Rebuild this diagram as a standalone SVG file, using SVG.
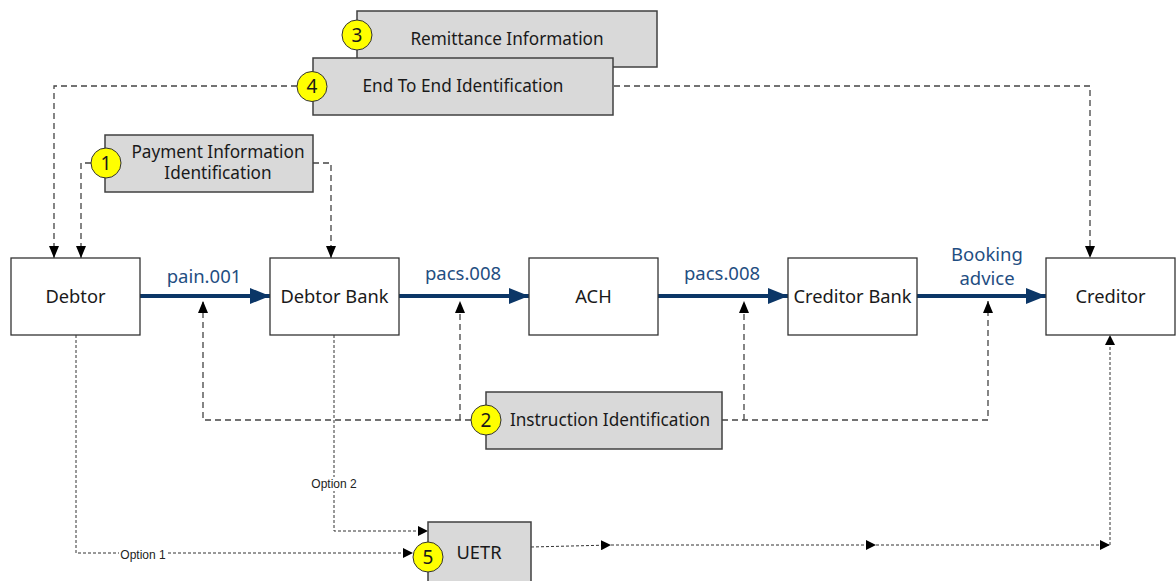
<svg xmlns="http://www.w3.org/2000/svg" width="1176" height="581" viewBox="0 0 1176 581">
<style>
.box{fill:#fff;stroke:#333;stroke-width:1.3}
.gbox{fill:#d9d9d9;stroke:#404040;stroke-width:1.5}
.t{font-family:"Noto Sans","Open Sans",sans-serif;font-size:18.3px;fill:#1a1a1a;text-anchor:middle}
.gt{font-family:"Noto Sans","Open Sans",sans-serif;font-size:17.2px;fill:#1a1a1a;text-anchor:middle}
.lbl{font-family:"Noto Sans","Open Sans",sans-serif;font-size:18.5px;fill:#1f4e82;text-anchor:middle}
.opt{font-family:"Liberation Sans",Arial,sans-serif;font-size:12px;fill:#222;text-anchor:middle}
.num{fill:#ffff00;stroke:#333;stroke-width:1}
.nt{font-family:"Noto Sans","Open Sans",sans-serif;font-size:19px;fill:#1a1a1a;text-anchor:middle}
.main{stroke:#0b3667;stroke-width:4;fill:none}
.dash{stroke:#444;stroke-width:1.3;stroke-dasharray:6 4;fill:none}
.dot{stroke:#333;stroke-width:1;stroke-dasharray:3 2;fill:none}
</style>
<defs>
<marker id="nav" markerUnits="userSpaceOnUse" markerWidth="20" markerHeight="16" refX="20" refY="8" orient="auto"><path d="M0,0 L20,8 L0,16 z" fill="#0b3667"/></marker>
<marker id="blk" markerUnits="userSpaceOnUse" markerWidth="12" markerHeight="10" refX="12" refY="5" orient="auto"><path d="M0,0 L12,5 L0,10 z" fill="#000"/></marker>
<marker id="sm" markerUnits="userSpaceOnUse" markerWidth="10" markerHeight="10" refX="10" refY="5" orient="auto"><path d="M0,0 L10,5 L0,10 z" fill="#000"/></marker>
</defs>

<g id="connectors">
  <path class="main" d="M140,296 H270" marker-end="url(#nav)"/>
  <path class="main" d="M399,296 H529" marker-end="url(#nav)"/>
  <path class="main" d="M658,296 H788" marker-end="url(#nav)"/>
  <path class="main" d="M917,296 H1046" marker-end="url(#nav)"/>
  <path class="dash" d="M297,86 H54 V258" marker-end="url(#blk)"/>
  <path class="dash" d="M614,86 H1090 V258" marker-end="url(#blk)"/>
  <path class="dash" d="M91,163 H81 V258" marker-end="url(#blk)"/>
  <path class="dash" d="M313,163 H331 V258" marker-end="url(#blk)"/>
  <path class="dash" d="M471,420 H203 V301" marker-end="url(#blk)"/>
  <path class="dash" d="M460,420 V301" marker-end="url(#blk)"/>
  <path class="dash" d="M722,420 H988 V301" marker-end="url(#blk)"/>
  <path class="dash" d="M744,420 V301" marker-end="url(#blk)"/>
  <path class="dot" d="M76,335 V553 H413" marker-end="url(#sm)"/>
  <path class="dot" d="M334,335 V531 H428" marker-end="url(#sm)"/>
  <path class="dot" d="M531,547 L611,545" marker-end="url(#sm)"/>
  <path class="dot" d="M611,545 H876" marker-end="url(#sm)"/>
  <path class="dot" d="M876,545 H1110" marker-end="url(#sm)"/>
  <path class="dot" d="M1110,545 V335" marker-end="url(#sm)"/>
  <rect x="119" y="547" width="48" height="14" fill="#fff"/>
  <text class="opt" x="143" y="559">Option 1</text>
  <rect x="310" y="477" width="48" height="14" fill="#fff"/>
  <text class="opt" x="334" y="488">Option 2</text>
  <text class="lbl" x="204" y="283">pain.001</text>
  <text class="lbl" x="463" y="280">pacs.008</text>
  <text class="lbl" x="722" y="280">pacs.008</text>
  <text class="lbl" x="987" y="261">Booking</text>
  <text class="lbl" x="987" y="285">advice</text>
</g>

<g id="debtor"><rect class="box" x="11" y="258" width="129" height="77"/><text class="t" x="75.5" y="302.5">Debtor</text></g>
<g id="debtor-bank"><rect class="box" x="270" y="258" width="129" height="77"/><text class="t" x="334.5" y="302.5">Debtor Bank</text></g>
<g id="ach"><rect class="box" x="529" y="258" width="129" height="77"/><text class="t" x="593.5" y="302.5">ACH</text></g>
<g id="creditor-bank"><rect class="box" x="788" y="258" width="129" height="77"/><text class="t" x="852.5" y="302.5">Creditor Bank</text></g>
<g id="creditor"><rect class="box" x="1046" y="258" width="129" height="77"/><text class="t" x="1110.5" y="302.5">Creditor</text></g>

<g id="remittance"><rect class="gbox" x="357" y="11" width="300" height="56"/><text class="gt" x="507" y="45">Remittance Information</text><circle class="num" cx="357" cy="35" r="15"/><text class="nt" x="357" y="41.5">3</text></g>
<g id="end-to-end"><rect class="gbox" x="313" y="58" width="300" height="57"/><text class="gt" x="463" y="92">End To End Identification</text><circle class="num" cx="312" cy="86.5" r="15"/><text class="nt" x="312" y="93">4</text></g>
<g id="payment-info"><rect class="gbox" x="105" y="135" width="208" height="57"/><text class="gt" x="218" y="157.5">Payment Information</text><text class="gt" x="218" y="179">Identification</text><circle class="num" cx="106" cy="163" r="15"/><text class="nt" x="106" y="169.5">1</text></g>
<g id="instruction"><rect class="gbox" x="486" y="392" width="236" height="57"/><text class="gt" x="610" y="426">Instruction Identification</text><circle class="num" cx="486" cy="420" r="15"/><text class="nt" x="486" y="426.5">2</text></g>
<g id="uetr"><rect class="gbox" x="428" y="522" width="103" height="62"/><text class="t" x="479" y="559">UETR</text><circle class="num" cx="428" cy="557" r="15"/><text class="nt" x="428" y="563.5">5</text></g>
</svg>
